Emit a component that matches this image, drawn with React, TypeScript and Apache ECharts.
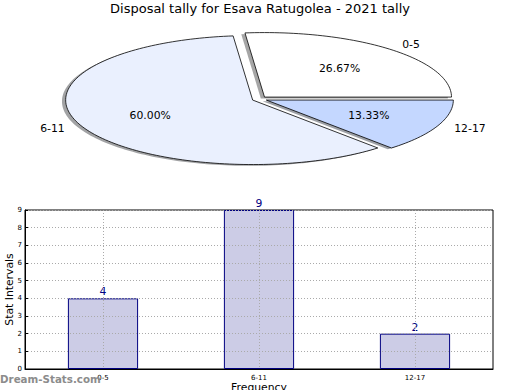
import React, { useEffect, useRef } from 'react';
import * as echarts from 'echarts';

// ---- data ----
const chartTitle = 'Disposal tally for Esava Ratugolea - 2021 tally';
const categories = ['0-5', '6-11', '12-17'];
const counts = [4, 9, 2];
const yMin = 0;
const yMax = 9;
const yInterval = 1;
const xAxisName = 'Frequency';
const yAxisName = 'Stat Intervals';
const watermark = 'Dream-Stats.com';

// ---- styles / layout ----
const FONT = "'DejaVu Sans', 'Noto Sans', sans-serif";
const PIE_COLORS = ['#ffffff', '#eaf0fe', '#c4d7ff'];
const PIE_CX = 259.5;
const PIE_CY = 99;
const PIE_RX = 187;
const PIE_RY = 64.5;
const EXPLODE = 0.04;
const SHADOW_DX = -3.7;
const SHADOW_DY = 1.3;

function shade(hex: string): string {
  const n = parseInt(hex.slice(1), 16);
  const r = Math.round(((n >> 16) & 255) * 0.3);
  const g = Math.round(((n >> 8) & 255) * 0.3);
  const b = Math.round((n & 255) * 0.3);
  return `rgba(${r},${g},${b},0.5)`;
}

function slicePoints(cx: number, cy: number, a1: number, a2: number) {
  const pts: number[][] = [[cx, cy]];
  const steps = Math.max(8, Math.ceil(((a2 - a1) / (Math.PI * 2)) * 240));
  for (let k = 0; k <= steps; k++) {
    const t = a1 + ((a2 - a1) * k) / steps;
    pts.push([cx + PIE_RX * Math.cos(t), cy - PIE_RY * Math.sin(t)]);
  }
  return pts;
}

export default function App() {
  const ref = useRef<HTMLDivElement>(null);
  useEffect(() => {
    document.body.style.margin = '0';
    if (!ref.current) return;
    const chart = echarts.init(ref.current, undefined, { renderer: 'svg' });
    const total = counts.reduce((a, b) => a + b, 0);

    const renderPie = (params: any) => {
      const i = params.dataIndex;
      let start = 0;
      for (let j = 0; j < i; j++) start += counts[j];
      const a1 = (start / total) * Math.PI * 2;
      const a2 = ((start + counts[i]) / total) * Math.PI * 2;
      const mid = (a1 + a2) / 2;
      const cx = PIE_CX + EXPLODE * PIE_RX * Math.cos(mid);
      const cy = PIE_CY - EXPLODE * PIE_RY * Math.sin(mid);
      const lx = cx + 1.1 * PIE_RX * Math.cos(mid);
      const ly = cy - 1.1 * PIE_RY * Math.sin(mid);
      const px = cx + 0.6 * PIE_RX * Math.cos(mid);
      const py = cy - 0.6 * PIE_RY * Math.sin(mid);
      return {
        type: 'group',
        children: [
          {
            type: 'polygon',
            z2: 0,
            shape: { points: slicePoints(cx + SHADOW_DX, cy + SHADOW_DY, a1, a2) },
            style: { fill: shade(PIE_COLORS[i]), stroke: 'none' },
          },
          {
            type: 'polygon',
            z2: 5,
            shape: { points: slicePoints(cx, cy, a1, a2) },
            style: { fill: PIE_COLORS[i], stroke: '#000', lineWidth: 0.8, lineJoin: 'miter' },
          },
          {
            type: 'text',
            z2: 10,
            x: lx,
            y: ly,
            style: {
              text: categories[i],
              fill: '#000',
              font: `10.8px ${FONT}`,
              align: Math.cos(mid) >= 0 ? 'left' : 'right',
              verticalAlign: 'middle',
            },
          },
          {
            type: 'text',
            z2: 10,
            x: px,
            y: py,
            style: {
              text: ((counts[i] / total) * 100).toFixed(2) + '%',
              fill: '#000',
              font: `10.8px ${FONT}`,
              align: 'center',
              verticalAlign: 'middle',
            },
          },
        ],
      };
    };

    const gridLine = { show: true, lineStyle: { color: '#aaaaaa', type: [1, 2] as any, width: 1 } };

    chart.setOption({
      animation: false,
      title: {
        text: chartTitle,
        left: 'center',
        top: 2,
        padding: 0,
        textStyle: { fontFamily: FONT, fontSize: 13, fontWeight: 'normal', color: '#000' },
      },
      grid: {
        left: 25,
        top: 210,
        width: 468,
        height: 159,
        containLabel: false,
        outerBoundsMode: 'none',
        show: true,
        borderColor: '#000',
        borderWidth: 1,
        backgroundColor: 'transparent',
      },
      xAxis: {
        type: 'category',
        data: categories,
        z: 3,
        name: xAxisName,
        nameLocation: 'middle',
        nameGap: 13,
        nameMoveOverlap: false,
        nameTextStyle: { fontFamily: FONT, fontSize: 10.8, color: '#000' },
        axisLine: { lineStyle: { color: '#000', width: 1 } },
        axisTick: { show: false },
        axisLabel: { fontFamily: FONT, fontSize: 7, color: '#000', margin: 5 },
        splitLine: { ...gridLine, alignWithLabel: true },
      },
      yAxis: {
        type: 'value',
        min: yMin,
        max: yMax,
        interval: yInterval,
        z: 3,
        name: yAxisName,
        nameLocation: 'middle',
        nameGap: 10,
        nameMoveOverlap: false,
        nameTextStyle: { fontFamily: FONT, fontSize: 10.8, color: '#000' },
        axisLine: { show: true, lineStyle: { color: '#000', width: 1 } },
        axisTick: { show: true, inside: true, length: 3, lineStyle: { color: '#000' } },
        axisLabel: { fontFamily: FONT, fontSize: 7, color: '#000', margin: 3 },
        splitLine: gridLine,
      },
      graphic: [
        {
          type: 'text',
          left: 0,
          top: 374,
          z: 100,
          style: {
            text: watermark,
            fill: '#8c8c8c',
            font: `bold 10.3px ${FONT}`,
          },
        },
      ],
      series: [
        {
          type: 'custom',
          coordinateSystem: 'none',
          data: counts,
          renderItem: renderPie,
          z: 2,
        },
        {
          type: 'bar',
          data: counts,
          barWidth: '45%',
          z: 2,
          itemStyle: { color: '#ccccE6', borderColor: '#000080', borderWidth: 1 },
          label: {
            show: true,
            position: 'top',
            distance: 1,
            color: '#000080',
            fontFamily: FONT,
            fontSize: 10.8,
          },
        },
      ],
    });
    return () => chart.dispose();
  }, []);
  return <div ref={ref} style={{ width: 520, height: 390 }} />;
}
